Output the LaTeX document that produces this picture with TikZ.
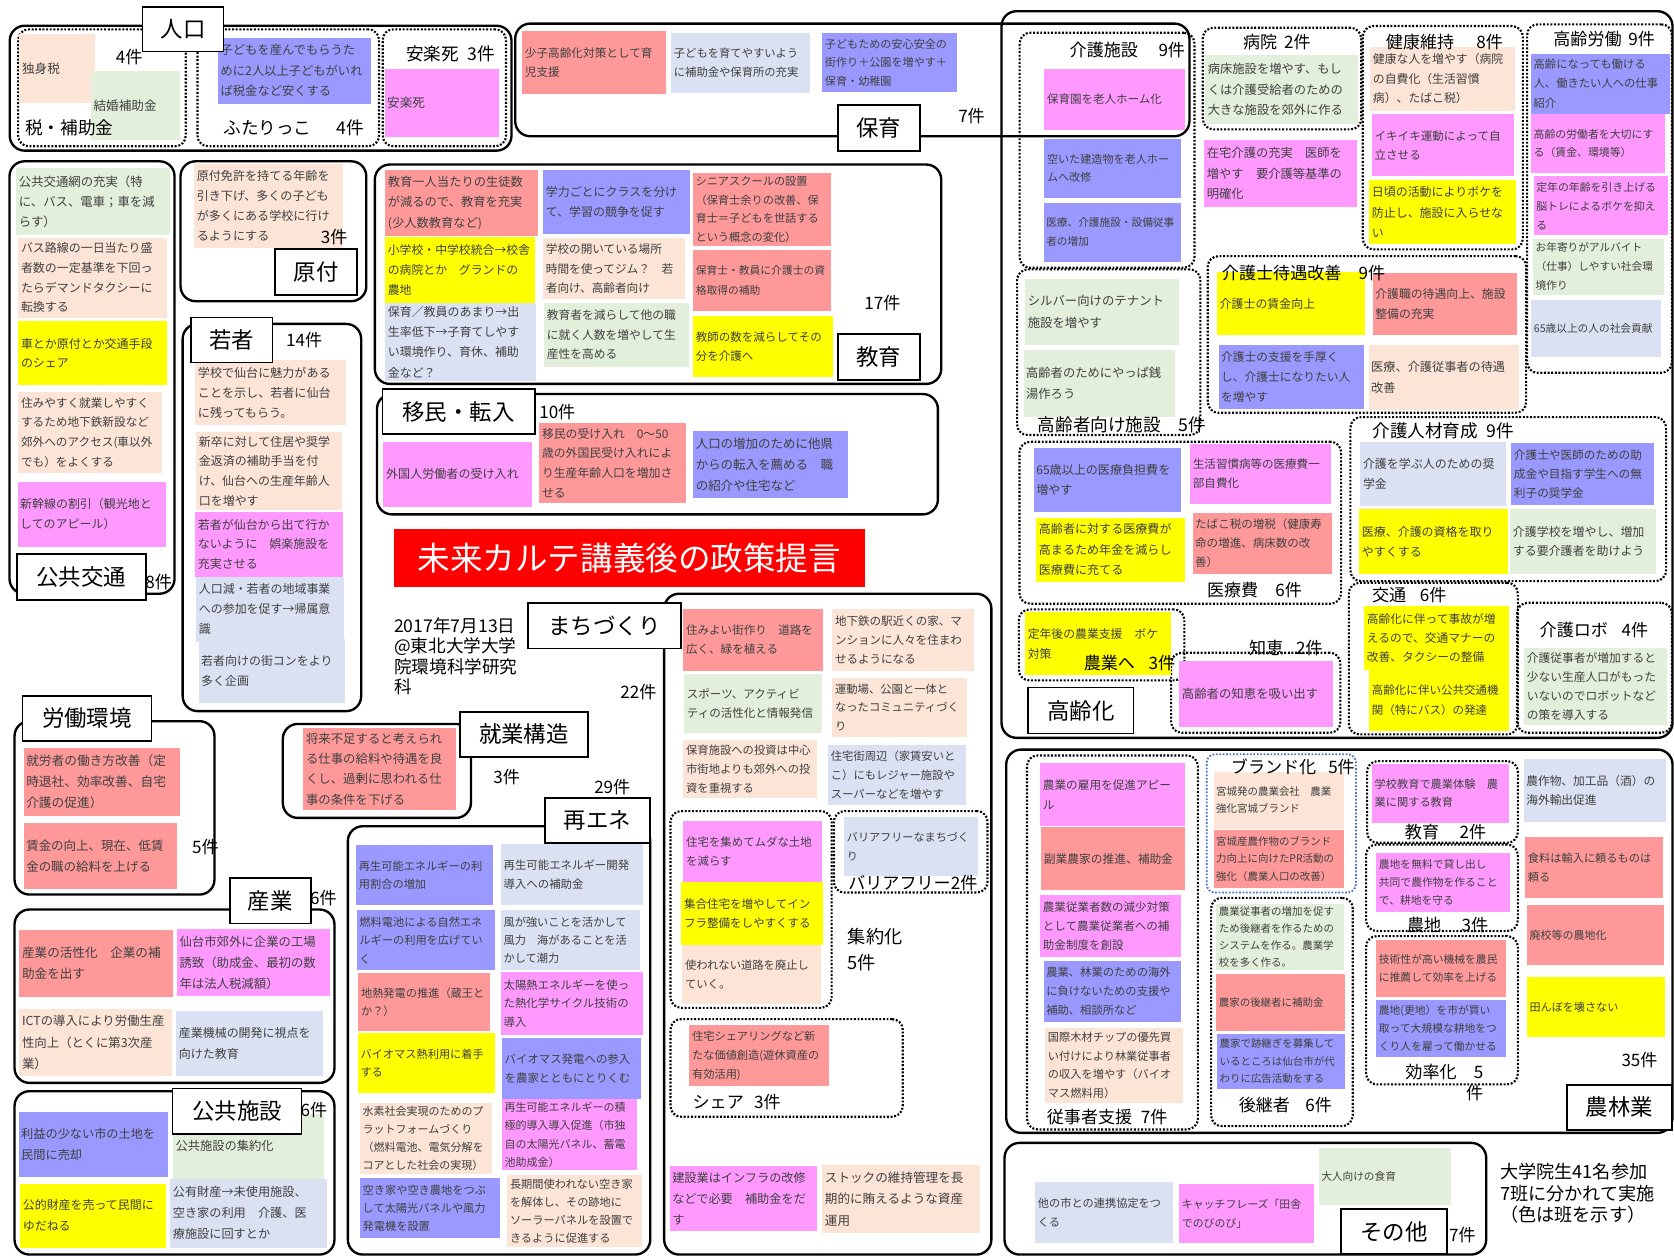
\documentclass[tikz,border=0pt]{standalone}
\usepackage{fontspec}
\setmainfont{Noto Sans CJK JP}
\definecolor{cSal}{RGB}{255,153,153}
\definecolor{cPea}{RGB}{252,228,214}
\definecolor{cGrn}{RGB}{226,239,218}
\definecolor{cPur}{RGB}{153,153,255}
\definecolor{cPnk}{RGB}{255,153,255}
\definecolor{cYel}{RGB}{255,255,0}
\definecolor{cBlg}{RGB}{217,225,242}
\definecolor{cTitle}{RGB}{255,0,0}
\definecolor{cTxt}{RGB}{64,64,64}
\definecolor{cDotBlue}{RGB}{68,114,196}
\newcommand\fsz[2]{\fontsize{#1}{#2}\selectfont}
\newcommand\fszz[1]{\pgfmathsetmacro\mybls{#1*1.66}\fontsize{#1}{\mybls}\selectfont}
\tikzset{
 catbox/.style={draw,line width=2.2pt,rounded corners=14pt},
 dotbox/.style={draw,line width=2pt,dash pattern=on 1.8pt off 1.6pt,rounded corners=10pt},
 bluedot/.style={draw=cDotBlue,line width=1.7pt,dash pattern=on 1.6pt off 1.6pt,rounded corners=8pt},
 cardst/.style={anchor=north west,inner xsep=2.5pt,inner ysep=1pt,align=left,font=\fszz{10.8},text=cTxt},
 fz/.style={font=\fszz{#1}},
 labst/.style={draw,fill=white,line width=1.6pt,inner sep=0pt,font=\fsz{21}{24},align=center,anchor=north west},
 txtst/.style={inner sep=0pt,font=\fsz{16}{19}},
}
\newcommand\mkbox[6]{%
 \pgfmathsetmacro\cdw{#5-#3}\pgfmathsetmacro\cdh{#6-#4}%
 \node[#2,anchor=north west,minimum width=\cdw pt,minimum height=\cdh pt,inner sep=0pt] (#1) at (#3,#4) {};}
\newcommand\mkcard[8][]{%
 \pgfmathsetmacro\cdw{#6-#4-5}\pgfmathsetmacro\cdh{#7-#5}%
 \node[cardst,fill=#3,text width=\cdw pt,minimum height=\cdh pt,#1] (#2) at (#4,#5) {#8};}
\newcommand\mklab[6]{%
 \pgfmathsetmacro\cdw{#4-#2}\pgfmathsetmacro\cdh{#5-#3}%
 \node[labst,minimum width=\cdw pt,minimum height=\cdh pt] (#1) at (#2,#3) {#6};}
\newcommand\mktxt[5][]{\node[txtst,#1] (#2) at (#3,#4) {#5};}
\begin{document}
\begin{tikzpicture}[x=1pt,y=-1pt]
\useasboundingbox (0,0) rectangle (1568,1176);
% ---------- outer category boxes
\mkbox{bJinko}{catbox}{8}{23}{478}{140}
\mkbox{bHoiku}{catbox}{481.5}{21}{1113}{126.5}
\mkbox{bKyoiku}{catbox}{350}{153}{880.5}{358.5}
\mkbox{bImin}{catbox}{352}{368}{877.4}{480.7}
\mkbox{bKotsu}{catbox}{7.8}{150}{162.4}{555}
\mkbox{bGentsuki}{catbox}{168}{150}{342}{281}
\mkbox{bWakamono}{catbox}{170}{302.3}{337.2}{665}
\mkbox{bRodo}{catbox}{12.5}{674.4}{199.8}{836.8}
\mkbox{bSangyo}{catbox}{12.5}{850.8}{312.2}{1013.2}
\mkbox{bKokyo}{catbox}{12.5}{1021}{312.2}{1174}
\mkbox{bShugyo}{catbox}{263.8}{677}{440}{765}
\mkbox{bSaiene}{catbox}{324.7}{772.8}{608}{1174}
\mkbox{bMachi}{catbox}{621}{555}{927.5}{1174}
\mkbox{bKorei}{catbox}{937}{9.4}{1565.5}{690}
\mkbox{bNorin}{catbox}{941.4}{701}{1565.5}{1060}
\mkbox{bSonota}{catbox}{939.8}{1069.4}{1391}{1174}
% ---------- dotted sub-groups
\mkbox{dZei}{dotbox}{16}{26.5}{173}{136}
\mkbox{dFutari}{dotbox}{184}{26.5}{354}{136}
\mkbox{dAnraku}{dotbox}{357.5}{26.5}{473}{136}
\mkbox{dShuyaku}{dotbox}{627}{758.7}{778}{943}
\mkbox{dBarrier}{dotbox}{780}{758.7}{924}{835}
\mkbox{dShare}{dotbox}{627}{953.6}{844.6}{1045}
\mkbox{dKaigoShisetsu}{dotbox}{954}{29.7}{1117.8}{249.8}
\mkbox{dKoreiShisetsu}{dotbox}{951.7}{251.3}{1123.4}{406.5}
\mkbox{dByoin}{dotbox}{1125.6}{25}{1274}{120.2}
\mkbox{dKenko}{dotbox}{1275.5}{23.4}{1425.4}{232.6}
\mkbox{dKoreiRodo}{dotbox}{1429.4}{21.8}{1565}{348.2}
\mkbox{dTaigu}{dotbox}{1130.3}{238.9}{1428.5}{385.6}
\mkbox{dIryohi}{dotbox}{953.9}{412.8}{1255.2}{564.5}
\mkbox{dNogyoHe}{dotbox}{953.3}{569.8}{1108.4}{636.3}
\mkbox{dChie}{dotbox}{1096}{610.4}{1254.5}{685.4}
\mkbox{dJinzai}{dotbox}{1263.9}{389.7}{1559.6}{543.3}
\mkbox{dKotsu2}{dotbox}{1262.4}{544.9}{1420.7}{686.9}
\mkbox{dRobo}{dotbox}{1420}{563.6}{1565}{685.4}
\mkbox{dJuji}{dotbox}{961}{706.6}{1121}{1056.9}
\mkbox{dBrand}{bluedot}{1129.4}{705.6}{1269.2}{835.2}
\mkbox{dKokei}{dotbox}{1133.4}{840}{1266.1}{1053.8}
\mkbox{dNoKyoiku}{dotbox}{1279.5}{711.9}{1420.7}{788.4}
\mkbox{dNochi}{dotbox}{1278.6}{790}{1420.7}{871.1}
\mkbox{dKoritsu}{dotbox}{1278.6}{875.8}{1420.7}{1014.7}
% ---------- cards: 人口
\mkcard[fz=11.8]{c1}{cPea}{18}{32}{89}{96}{独身税}
\mkcard[fz=11.8]{c2}{cGrn}{85}{66.5}{168.6}{130.5}{結婚補助金}
\mkcard[fz=11.5]{c3}{cPur}{204}{35}{347.5}{97}{子どもを産んでもらうた\\めに2人以上子どもがいれ\\ば税金など安くする}
\mkcard[fz=11.8]{c4}{cPnk}{360}{64}{467.6}{128}{安楽死}
% 保育
\mkcard[fz=10.9]{h1}{cSal}{489}{29}{624}{88}{少子高齢化対策として育\\児支援}
\mkcard[fz=10.6]{h2}{cBlg}{628.5}{30.3}{758.7}{86.8}{子どもを育てやすいよう\\に補助金や保育所の充実}
\mkcard[font=\fsz{10.4}{17.5}]{h3}{cPur}{770}{30.6}{896}{86}{子どもための安心安全の\\街作り＋公園を増やす＋\\保育・幼稚園}
% 教育
\mkcard[fz=11.5]{e1}{cSal}{360.6}{158.6}{503.6}{221}{教育一人当たりの生徒数\\が減るので、教育を充実\\(少人数教育など)}
\mkcard[fz=11.1]{e2}{cYel}{360.6}{222}{501}{283.5}{小学校・中学校統合→校舎\\の病院とか　グランドの\\農地}
\mkcard[font=\fsz{11.2}{19}]{e3}{cBlg}{360.6}{283.5}{502}{356.6}{保育／教員のあまり→出\\生率低下→子育てしやす\\い環境作り、育休、補助\\金など？}
\mkcard[fz=11.2]{e4}{cPur}{508.6}{159.2}{646.3}{218.6}{学力ごとにクラスを分け\\て、学習の競争を促す}
\mkcard[fz=10.9]{e5}{cPea}{508.6}{223}{641.7}{280}{学校の開いている場所\\時間を使ってジム？　若\\者向け、高齢者向け}
\mkcard[fz=11]{e6}{cGrn}{509.6}{283.5}{645.4}{343.5}{教育者を減らして他の職\\に就く人数を増やして生\\産性を高める}
\mkcard[font=\fsz{10.5}{17.5}]{e7}{cSal}{648.8}{161.4}{778.4}{230.4}{シニアスクールの設置\\（保育士余りの改善、保\\育士＝子どもを世話する\\という概念の変化）}
\mkcard[font=\fsz{10.1}{18.5}]{e8}{cSal}{649}{234}{778.4}{291}{保育士・教員に介護士の資\\格取得の補助}
\mkcard[fz=10.8]{e9}{cYel}{649}{296}{780}{352.8}{教師の数を減らしてその\\分を介護へ}
% 移民・転入
\mkcard[fz=11.3]{m1}{cPnk}{359}{413.7}{498}{474.6}{外国人労働者の受け入れ}
\mkcard[font=\fsz{11.1}{18.4}]{m2}{cSal}{505}{396}{642.6}{470.8}{移民の受け入れ　0～50\\歳の外国民受け入れによ\\り生産年齢人口を増加さ\\せる}
\mkcard[font=\fsz{11.7}{19.5}]{m3}{cPur}{649}{403.7}{794}{466.6}{人口の増加のために他県\\からの転入を薦める　職\\の紹介や住宅など}
% 公共交通
\mkcard[font=\fsz{11.6}{18.7}]{k1}{cGrn}{15}{156.8}{159.3}{220}{公共交通網の充実（特\\に、バス、電車；車を減\\らす）}
\mkcard[font=\fsz{11.2}{18.5}]{k2}{cPea}{17}{222.6}{156}{297.3}{バス路線の一日当たり盛\\者数の一定基準を下回っ\\たらデマンドタクシーに\\転換する}
\mkcard[fz=11.2]{k3}{cYel}{17}{300.7}{156}{360.6}{車とか原付とか交通手段\\のシェア}
\mkcard[font=\fsz{10.9}{18.5}]{k4}{cPea}{17}{367}{151.5}{442.7}{住みやすく就業しやすく\\するため地下鉄新設など\\郊外へのアクセス(車以外\\でも）をよくする}
\mkcard[fz=11.2]{k5}{cPnk}{16.2}{451}{155.5}{512}{新幹線の割引（観光地と\\してのアピール）}
% 原付
\mkcard[font=\fsz{11.3}{18.7}]{g1}{cPea}{181.7}{153}{321}{231.7}{原付免許を持てる年齢を\\引き下げ、多くの子ども\\が多くにある学校に行け\\るようにする}
% 若者
\mkcard[fz=11.3]{w1}{cPea}{182.7}{337.2}{324}{398}{学校で仙台に魅力がある\\ことを示し、若者に仙台\\に残ってもらう。}
\mkcard[font=\fsz{11.2}{18.4}]{w2}{cPea}{183.6}{404.3}{320}{477.7}{新卒に対して住居や奨学\\金返済の補助手当を付\\け、仙台への生産年齢人\\口を増やす}
\mkcard[fz=11.2]{w3}{cPnk}{182.7}{479.3}{321}{540}{若者が仙台から出て行か\\ないように　娯楽施設を\\充実させる}
\mkcard[fz=11.2]{w4}{cBlg}{183.6}{540}{321.6}{601}{人口減・若者の地域事業\\への参加を促す→帰属意\\識}
\mkcard[fz=11.2]{w5}{cBlg}{185.8}{598}{323.2}{658}{若者向けの街コンをより\\多く企画}
% 労働環境
\mkcard[font=\fsz{11.9}{19.8}]{r1}{cSal}{21.9}{700}{168.6}{764.4}{就労者の働き方改善（定\\時退社、効率改善、自宅\\介護の促進）}
\mkcard[font=\fsz{11.7}{19.8}]{r2}{cSal}{21.9}{771}{165.5}{832.8}{賃金の向上、現在、低賃\\金の職の給料を上げる}
% 産業
\mkcard[font=\fsz{11.8}{19.8}]{s1}{cSal}{18}{871}{161.7}{933.6}{産業の活性化　企業の補\\助金を出す}
\mkcard[font=\fsz{11.6}{19.8}]{s2}{cPnk}{165.5}{870}{309}{932.7}{仙台市郊外に企業の工場\\誘致（助成金、最初の数\\年は法人税減額）}
\mkcard[font=\fsz{11.6}{19.8}]{s3}{cPea}{18}{944.5}{160.8}{1008}{ICTの導入により労働生産\\性向上（とくに第3次産\\業）}
\mkcard[font=\fsz{11.2}{19.8}]{s4}{cBlg}{164.9}{947}{302.3}{1008}{産業機械の開発に視点を\\向けた教育}
% 公共施設
\mkcard[font=\fsz{11.4}{19.5}]{p1}{cPur}{17.2}{1041.3}{157}{1102.2}{利益の少ない市の土地を\\民間に売却}
\mkcard[font=\fsz{11.5}{19.5}]{p2}{cGrn}{161.7}{1042.8}{302.9}{1103.8}{公共施設の集約化}
\mkcard[font=\fsz{11.2}{19.5}]{p3}{cYel}{18.7}{1108.4}{155.5}{1168.4}{公的財産を売って民間に\\ゆだねる}
\mkcard[font=\fsz{11.4}{19.5}]{p4}{cBlg}{159.2}{1103.8}{306}{1168.4}{公有財産→未使用施設、\\空き家の利用　介護、医\\療施設に回すとか}
% 就業構造
\mkcard[font=\fsz{11.6}{19}]{j1}{cSal}{284}{681.6}{427}{758.7}{将来不足すると考えられ\\る仕事の給料や待遇を良\\くし、過剰に思われる仕\\事の条件を下げる}
% 再エネ
\mkcard[font=\fsz{10.5}{17.2}]{re1}{cPur}{333.5}{791.5}{461.5}{847.7}{再生可能エネルギーの利\\用割合の増加}
\mkcard[font=\fsz{10.7}{17.2}]{re2}{cBlg}{469}{790}{602}{847.7}{再生可能エネルギー開発\\導入への補助金}
\mkcard[font=\fsz{10.5}{17.2}]{re3}{cPur}{334}{852.4}{463.7}{908.6}{燃料電池による自然エネ\\ルギーの利用を広げてい\\く}
\mkcard[font=\fsz{10.5}{17.2}]{re4}{cBlg}{469}{852.4}{599}{908.6}{風が強いことを活かして\\風力　海があることを活\\かして潮力}
\mkcard[font=\fsz{10.5}{17.2}]{re5}{cSal}{335.5}{911}{459}{965.7}{地熱発電の推進（蔵王と\\か？）}
\mkcard[font=\fsz{10.7}{17.2}]{re6}{cPnk}{469}{910}{602}{969.5}{太陽熱エネルギーを使っ\\た熱化学サイクル技術の\\導入}
\mkcard[font=\fsz{10.5}{17.2}]{re7}{cYel}{335}{967.3}{463.7}{1024}{バイオマス熱利用に着手\\する}
\mkcard[font=\fsz{10.7}{17.2}]{re8}{cPur}{470}{972.4}{600.4}{1029}{バイオマス発電への参入\\を農家とともにとりくむ}
\mkcard[font=\fsz{10.3}{16.9}]{re9}{cPea}{337}{1033}{460.5}{1099}{水素社会実現のためのプ\\ラットフォームづくり\\（燃料電池、電気分解を\\コアとした社会の実現）}
\mkcard[font=\fsz{10.3}{16.9}]{re10}{cPnk}{470}{1029.5}{596.4}{1096}{再生可能エネルギーの積\\極的導入導入促進（市独\\自の太陽光パネル、蓄電\\池助成金）}
\mkcard[font=\fsz{10.5}{17.2}]{re11}{cPur}{337}{1103.5}{468}{1159.7}{空き家や空き農地をつぶ\\して太陽光パネルや風力\\発電機を設置}
\mkcard[font=\fsz{10.5}{16.9}]{re12}{cPea}{475}{1100.6}{601.4}{1168}{長期間使われない空き家\\を解体し、その跡地に\\ソーラーパネルを設置で\\きるように促進する}
% まちづくり
\mkcard[font=\fsz{10.8}{17.8}]{mc1}{cSal}{640}{570.6}{771}{628}{住みよい街作り　道路を\\広く、緑を植える}
\mkcard[font=\fsz{10.8}{17.8}]{mc2}{cGrn}{640.7}{631.3}{769.7}{686.7}{スポーツ、アクティビ\\ティの活性化と情報発信}
\mkcard[font=\fsz{10.6}{17.6}]{mc3}{cPea}{640}{693}{765}{747.5}{保育施設への投資は中心\\市街地よりも郊外への投\\資を重視する}
\mkcard[font=\fsz{10.8}{17.6}]{mc4}{cPea}{779.5}{570.5}{912}{628}{地下鉄の駅近くの家、マ\\ンションに人々を住まわ\\せるようになる}
\mkcard[font=\fsz{10.6}{17.6}]{mc5}{cPea}{779.5}{635}{905.5}{690}{運動場、公園と一体と\\なったコミュニティづく\\り}
\mkcard[font=\fsz{10.6}{17.6}]{mc6}{cBlg}{775.6}{698}{905}{754}{住宅街周辺（家賃安いと\\こ）にもレジャー施設や\\スーパーなどを増やす}
\mkcard[font=\fsz{10.7}{17.8}]{mc7}{cPnk}{640}{769}{770}{826}{住宅を集めてムダな土地\\を減らす}
\mkcard[font=\fsz{10.8}{17.8}]{mc8}{cYel}{638}{826}{770.6}{885}{集合住宅を増やしてイン\\フラ整備をしやすくする}
\mkcard[font=\fsz{10.6}{17.8}]{mc9}{cPea}{639}{885}{769}{940.5}{使われない道路を廃止し\\ていく。}
\mkcard[font=\fsz{10.4}{17.6}]{mc10}{cBlg}{790.6}{765}{915.8}{820}{バリアフリーなまちづく\\り}
\mkcard[font=\fsz{10.5}{17.8}]{mc11}{cSal}{645.6}{960}{776.6}{1017}{住宅シェアリングなど新\\たな価値創造(遊休資産の\\有効活用)}
\mkcard[font=\fsz{11.4}{19.5}]{mc12}{cPnk}{627}{1092}{765.5}{1152.8}{建設業はインフラの改修\\などで必要　補助金をだ\\す}
\mkcard[font=\fsz{11.8}{20}]{mc13}{cPea}{770}{1091}{918}{1155}{ストックの維持管理を長\\期的に賄えるような資産\\運用}
% 高齢化
\mkcard[fz=10.8]{a1}{cPnk}{978}{64}{1110}{121.8}{保育園を老人ホーム化}
\mkcard[fz=10.4]{a2}{cPur}{978}{129.6}{1106}{184.8}{空いた建造物を老人ホー\\ムへ改修}
\mkcard[font=\fsz{10}{18}]{a3}{cPur}{977.3}{189.5}{1106}{245}{医療、介護施設・設備従事\\者の増加}
\mkcard[font=\fsz{11.6}{20}]{a4}{cGrn}{960}{260.7}{1103.7}{323.2}{シルバー向けのテナント\\施設を増やす}
\mkcard[font=\fsz{11.5}{20}]{a5}{cGrn}{958.5}{327.8}{1100.6}{390.3}{高齢者のためにやっぱ銭\\湯作ろう}
\mkcard[font=\fsz{11.5}{19.4}]{a6}{cGrn}{1128.7}{51.5}{1271.4}{115.5}{病床施設を増やす、もし\\くは介護受給者のための\\大きな施設を郊外に作る}
\mkcard[font=\fsz{11.5}{19.4}]{a7}{cPnk}{1127.8}{131.1}{1270.8}{193.6}{在宅介護の充実　医師を\\増やす　要介護等基準の\\明確化}
\mkcard[font=\fsz{11.1}{18.2}]{a8}{cPea}{1283.3}{43.7}{1419}{103.7}{健康な人を増やす（病院\\の自費化（生活習慣\\病）、たばこ税）}
\mkcard[fz=10.8]{a9}{cPnk}{1284.9}{106.8}{1418.2}{164.9}{イキイキ運動によって自\\立させる}
\mkcard[font=\fsz{11.2}{19}]{a10}{cYel}{1282.3}{168.6}{1419.7}{228.6}{日頃の活動によりボケを\\防止し、施設に入らせな\\い}
\mkcard[font=\fsz{10.6}{18}]{a11}{cPur}{1433.8}{50}{1563.7}{106.2}{高齢になっても働ける\\人、働きたい人への仕事\\紹介}
\mkcard[fz=10.2]{a12}{cPnk}{1433.8}{106.8}{1559.6}{161.7}{高齢の労働者を大切にす\\る（賃金、環境等）}
\mkcard[font=\fsz{10.2}{17.8}]{a13}{cPnk}{1436.3}{164.9}{1561.8}{220}{定年の年齢を引き上げる\\脳トレによるボケを抑え\\る}
\mkcard[font=\fsz{10}{17.8}]{a14}{cGrn}{1435.7}{223.2}{1558}{276.3}{お年寄りがアルバイト\\（仕事）しやすい社会環\\境作り}
\mkcard[fz=10]{a15}{cBlg}{1434}{281}{1555.6}{334}{65歳以上の人の社会貢献}
\mkcard[fz=11.2]{a16}{cYel}{1139.7}{254.5}{1278.6}{313.8}{介護士の賃金向上}
\mkcard[fz=11.1]{a17}{cSal}{1285.5}{255.4}{1420.7}{313.8}{介護職の待遇向上、施設\\整備の充実}
\mkcard[font=\fsz{11}{19}]{a18}{cPur}{1141.2}{323.2}{1277}{382.5}{介護士の支援を手厚く\\し、介護士になりたい人\\を増やす}
\mkcard[fz=11.4]{a19}{cPea}{1281.7}{323.2}{1422.2}{383.4}{医療、介護従事者の待遇\\改善}
\mkcard[fz=11.3]{a20}{cPur}{968}{419}{1106}{479.3}{65歳以上の医療負担費を\\増やす}
\mkcard[fz=10.8]{a21}{cPnk}{1114.7}{415.3}{1246.8}{472}{生活習慣病等の医療費一\\部自費化}
\mkcard[font=\fsz{11.3}{19.2}]{a22}{cYel}{970.4}{484.6}{1110}{544.9}{高齢者に対する医療費が\\高まるため年金を減らし\\医療費に充てる}
\mkcard[font=\fsz{10.8}{18}]{a23}{cSal}{1116.8}{480.2}{1247.4}{537}{たばこ税の増税（健康寿\\命の増進、病床数の改\\善）}
\mkcard[font=\fsz{11.1}{19}]{a24}{cYel}{960}{573}{1096.6}{632.3}{定年後の農業支援　ボケ\\対策}
\mkcard[fz=11.6]{a25}{cPnk}{1104.4}{619.2}{1248.3}{680.7}{高齢者の知恵を吸い出す}
\mkcard[fz=11.2]{a26}{cBlg}{1274}{413.7}{1410.4}{474}{介護を学ぶ人のための奨\\学金}
\mkcard[font=\fsz{10.9}{18}]{a27}{cPur}{1415.4}{414.3}{1548.7}{473}{介護士や医師のための助\\成金や目指す学生への無\\利子の奨学金}
\mkcard[fz=11.2]{a28}{cYel}{1273}{476.8}{1411.9}{537.7}{医療、介護の資格を取り\\やすくする}
\mkcard[fz=11.2]{a29}{cGrn}{1414.4}{476.8}{1551.2}{537}{介護学校を増やし、増加\\する要介護者を助けよう}
\mkcard[font=\fsz{11}{18}]{a30}{cYel}{1277.7}{567.6}{1413.5}{627}{高齢化に伴って事故が増\\えるので、交通マナーの\\改善、タクシーの整備}
\mkcard[font=\fsz{10.8}{18}]{a31}{cYel}{1282.3}{627}{1413.5}{684.4}{高齢化に伴い公共交通機\\関（特にバス）の発達}
\mkcard[font=\fsz{11}{18}]{a32}{cGrn}{1427.5}{606.7}{1561.2}{679.1}{介護従事者が増加すると\\少ない生産人口がもった\\いないのでロボットなど\\の策を導入する}
% 農林業
\mkcard[font=\fsz{10.9}{18.5}]{n1}{cPnk}{974.2}{714.4}{1110}{773.7}{農業の雇用を促進アピー\\ル}
\mkcard[fz=11]{n2}{cSal}{975}{774.4}{1110}{833.7}{副業農家の推進、補助金}
\mkcard[font=\fsz{10.8}{17.8}]{n3}{cPnk}{974.2}{838.4}{1106}{896.1}{農業従業者数の減少対策\\として農業従業者への補\\助金制度を創設}
\mkcard[font=\fsz{10.6}{17.8}]{n4}{cPur}{977.3}{900.2}{1106}{957}{農業、林業のための海外\\に負けないための支援や\\補助、相談所など}
\mkcard[font=\fsz{10.5}{17.5}]{n5}{cPea}{978.9}{962.3}{1107.5}{1032.9}{国際木材チップの優先買\\い付けにより林業従事者\\の収入を増やす（バイオ\\マス燃料用）}
\mkcard[font=\fsz{9.8}{16.5}]{n6}{cPea}{1136.5}{722.8}{1258.3}{775.9}{宮城発の農業会社　農業\\強化宮城ブランド}
\mkcard[font=\fsz{9.8}{16.2}]{n7}{cSal}{1136.5}{777.5}{1258.3}{831.1}{宮城産農作物のブランド\\力向上に向けたPR活動の\\強化（農業人口の改善）}
\mkcard[font=\fsz{9.8}{16.1}]{n8}{cGrn}{1139}{846.2}{1259}{908.6}{農業従事者の増加を促す\\ため後継者を作るための\\システムを作る。農業学\\校を多く作る。}
\mkcard[font=\fsz{9.8}{16.1}]{n9}{cSal}{1139}{912.4}{1260}{965.7}{農家の後継者に補助金}
\mkcard[font=\fsz{9.8}{16.1}]{n10}{cPur}{1139.7}{968}{1260}{1019.4}{農家で跡継ぎを募集して\\いるところは仙台市が代\\わりに広告活動をする}
\mkcard[font=\fsz{10.5}{17}]{n11}{cPnk}{1284.9}{715}{1412.8}{770.6}{学校教育で農業体験　農\\業に関する教育}
\mkcard[font=\fsz{10.1}{16.9}]{n12}{cPnk}{1288.9}{798.7}{1414.4}{854}{農地を無料で貸し出し\\共同で農作物を作ること\\で、耕地を守る}
\mkcard[font=\fsz{10.1}{16.9}]{n13}{cSal}{1288.9}{880.5}{1410.7}{933.6}{技術性が高い機械を農民\\に推薦して効率を上げる}
\mkcard[font=\fsz{10.1}{16.7}]{n14}{cPur}{1288.9}{936.7}{1410.7}{989.8}{農地(更地）を市が買い\\取って大規模な耕地をつ\\くり人を雇って働かせる}
\mkcard[font=\fsz{11}{18}]{n15}{cBlg}{1426.9}{711}{1560.5}{769.7}{農作物、加工品（酒）の\\海外輸出促進}
\mkcard[font=\fsz{10.5}{17.8}]{n16}{cSal}{1428.5}{783.7}{1557.4}{840.9}{食料は輸入に頼るものは\\頼る}
\mkcard[fz=10.3]{n17}{cSal}{1430}{847.7}{1558.7}{904}{廃校等の農地化}
\mkcard[fz=10.4]{n18}{cYel}{1430}{914.8}{1559.6}{971}{田んぼを壊さない}
% その他
\mkcard[font=\fsz{10.5}{17.8}]{o1}{cBlg}{969.5}{1106.9}{1098.4}{1164}{他の市との連携協定をつ\\くる}
\mkcard[font=\fsz{10.2}{17.8}]{o2}{cPnk}{1104.4}{1109}{1230.2}{1164}{キャッチフレーズ「田舎\\でのびのび」}
\mkcard[fz=10]{o3}{cGrn}{1234.9}{1074.7}{1358.9}{1128.7}{大人向けの食育}
% ---------- title
\node[fill=cTitle,text=white,font=\fsz{30.5}{32},minimum width=441.5pt,minimum height=53.9pt,anchor=north west,inner sep=0pt] (title) at (368.5,495.6) {未来カルテ講義後の政策提言};
% ---------- category labels
\mklab{lJinko}{132.7}{5.6}{208.6}{47.5}{人口}
\mklab{lHoiku}{784}{97.5}{861}{140.5}{保育}
\mklab{lKyoiku}{784}{312}{861}{355}{教育}
\mklab{lImin}{357.5}{363.8}{500}{405.9}{移民・転入}
\mklab{lKotsu}{15}{518.3}{135.8}{561.4}{公共交通}
\mklab{lGentsuki}{257}{232.6}{333.5}{275.4}{原付}
\mklab{lWakamono}{178}{296.6}{254.5}{338.8}{若者}
\mklab{lRodo}{20.3}{651}{141}{693}{労働環境}
\mklab{lSangyo}{214.5}{821.8}{290.4}{864.3}{産業}
\mklab{lKokyo}{160.8}{1018.8}{281.6}{1061.6}{公共施設}
\mklab{lShugyo}{430}{666}{550}{708}{就業構造}
\mklab{lSaiene}{509.6}{746.5}{608}{789}{再エネ}
\mklab{lMachi}{493.7}{564}{637}{606.7}{まちづくり}
\mklab{lKorei}{962.3}{643.2}{1061}{686.3}{高齢化}
\mklab{lNorin}{1466.9}{1015.4}{1565}{1057.5}{農林業}
\mklab{lSonota}{1255.2}{1131.9}{1354.5}{1174}{その他}
% ---------- counts and group titles
\mktxt{t4a}{121}{53}{4件}
\mktxt[font=\fsz{16.5}{20}]{tZei}{65}{120}{税・補助金}
\mktxt[font=\fsz{16.5}{20}]{tFutari}{275}{120}{ふたりっこ\hspace{1.4em}4件}
\mktxt[font=\fsz{16.5}{20}]{tAnraku}{422}{50}{安楽死\hspace{0.5em}3件}
\mktxt{t7}{910}{109}{7件}
\mktxt{t17}{826.5}{284}{17件}
\mktxt{t10}{522}{385.6}{10件}
\mktxt{t3g}{313}{222}{3件}
\mktxt{t14}{285}{318.5}{14件}
\mktxt{t8}{148.6}{545}{8件}
\mktxt{t5}{192.5}{793}{5件}
\mktxt{t6a}{303}{841.5}{6件}
\mktxt{t6b}{294}{1040}{6件}
\mktxt{t3s}{474.5}{727.5}{3件}
\mktxt{t29}{573.5}{737}{29件}
\mktxt{t22}{598}{648}{22件}
\mktxt[anchor=west,align=left,font=\fsz{17}{24.6}]{tShuyaku}{794}{889.7}{集約化\\5件}
\mktxt{tBarrier}{855}{827}{バリアフリー2件}
\mktxt{tShare}{690}{1032}{シェア\hspace{0.6em}3件}
\mktxt{tKaigo}{1056}{47}{介護施設\hspace{1.2em}9件}
\mktxt[font=\fsz{16.5}{19}]{tKoreiShisetsu}{1051}{398}{高齢者向け施設\hspace{1em}5件}
\mktxt{tByoin}{1196}{39}{病院\hspace{0.4em}2件}
\mktxt{tKenko}{1353}{39}{健康維持\hspace{1.3em}8件}
\mktxt{tKoreiRodo}{1502.6}{37}{高齢労働\hspace{0.4em}9件}
\mktxt{tTaigu}{1221}{256}{介護士待遇改善\hspace{1em}9件}
\mktxt{tIryohi}{1175}{553}{医療費\hspace{1em}6件}
\mktxt{tNogyoHe}{1058}{621}{農業へ\hspace{0.8em}3件}
\mktxt{tChie}{1204.5}{607}{知恵\hspace{0.75em}2件}
\mktxt[font=\fsz{16.5}{19}]{tJinzai}{1352}{404}{介護人材育成\hspace{0.5em}9件}
\mktxt{tKotsu2}{1320}{557}{交通\hspace{0.8em}6件}
\mktxt{tRobo}{1493}{590}{介護ロボ\hspace{0.8em}4件}
\mktxt{tJuji}{1037}{1046}{従事者支援\hspace{0.5em}7件}
\mktxt{tBrand}{1211}{718}{ブランド化\hspace{0.7em}5件}
\mktxt{tKokei}{1204}{1035}{後継者\hspace{0.9em}6件}
\mktxt{tNoKyoiku}{1354}{779}{教育\hspace{1.2em}2件}
\mktxt{tNochi}{1356}{866.5}{農地\hspace{1.2em}3件}
\mktxt[anchor=east,align=right,font=\fsz{16}{20}]{tKoritsu}{1389.5}{1014}{効率化\hspace{1em}5\\件}
\mktxt{t35}{1535.7}{993}{35件}
\mktxt{t7b}{1369.7}{1157}{7件}
% ---------- free texts
\node[txtst,anchor=west,align=left,font=\fsz{16.5}{19}] (date) at (369,614.6) {2017年7月13日\\@東北大学大学\\院環境科学研究\\科};
\node[txtst,anchor=west,align=left,font=\fsz{17}{20.3}] (note) at (1405,1117.8) {大学院生41名参加\\7班に分かれて実施\\（色は班を示す）};
\end{tikzpicture}
\end{document}
